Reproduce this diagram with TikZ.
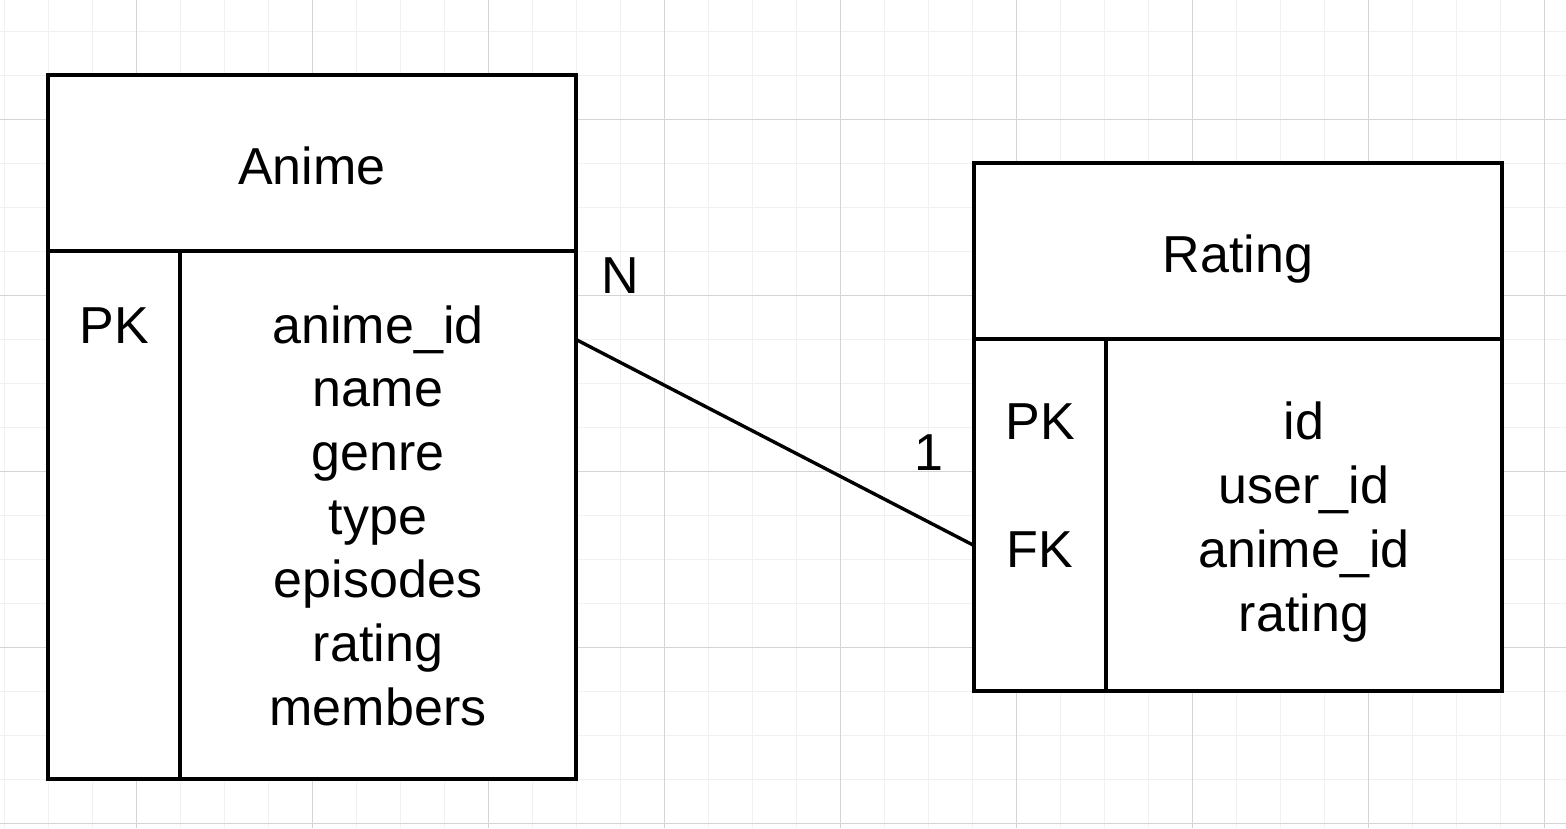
\documentclass[tikz,border=0pt]{standalone}
\usepackage{fontspec}
\setmainfont{Liberation Sans}
\definecolor{minorgrid}{HTML}{F1F1F1}
\definecolor{majorgrid}{HTML}{D4D4D4}
\begin{document}
\begin{tikzpicture}[x=1pt,y=-1pt,
  mgrid/.style={draw=minorgrid,line width=1pt},
  Mgrid/.style={draw=majorgrid,line width=1pt},
  tbl/.style={draw=black,line width=3.6pt,fill=white},
  sep/.style={draw=black,line width=3.6pt},
  lbl/.style={anchor=base,inner sep=0pt,font=\fontsize{52}{62}\selectfont},
  conn/.style={draw=black,line width=3.4pt}]
\useasboundingbox (0,0) rectangle (1566,828);
\fill[white] (0,0) rectangle (1566,828);
% grid
\foreach \i in {0,...,35} \draw[mgrid] ({4+44*\i},0) -- ({4+44*\i},828);
\foreach \j in {0,...,18} \draw[mgrid] (0,{31+44*\j}) -- (1566,{31+44*\j});
\foreach \i in {0,...,8} \draw[Mgrid] ({136+176*\i},0) -- ({136+176*\i},828);
\foreach \j in {0,...,4} \draw[Mgrid] (0,{119+176*\j}) -- (1566,{119+176*\j});
% Anime table
\draw[tbl] (48,75) rectangle (576,779);
\draw[sep] (48,251) -- (576,251);
\draw[sep] (180,251) -- (180,779);
\node[lbl] (animetitle) at (312,184) {Anime};
\node[lbl] (animepk) at (114,343) {PK};
\foreach \t [count=\k from 0] in {anime\_id,name,genre,type,episodes,rating,members}
  \node[lbl] (af\k) at (378,{343+63.7*\k}) {\t};
% Rating table
\draw[tbl] (974,163) rectangle (1502,691);
\draw[sep] (974,339) -- (1502,339);
\draw[sep] (1106,339) -- (1106,691);
\node[lbl] (ratingtitle) at (1238,272) {Rating};
\node[lbl] (ratingpk) at (1040,439) {PK};
\node[lbl] (ratingfk) at (1040,567) {FK};
\foreach \t [count=\k from 0] in {id,user\_id,anime\_id,rating}
  \node[lbl] (rf\k) at (1304,{439+64.3*\k}) {\t};
% connector
\coordinate (animeend) at (577,340);
\coordinate (ratingend) at (973,545);
\draw[conn] (animeend) -- (ratingend);
\node[lbl] (cardN) at (620.5,293) {N};
\node[lbl] (card1) at (928.5,470) {1};
\end{tikzpicture}
\end{document}
